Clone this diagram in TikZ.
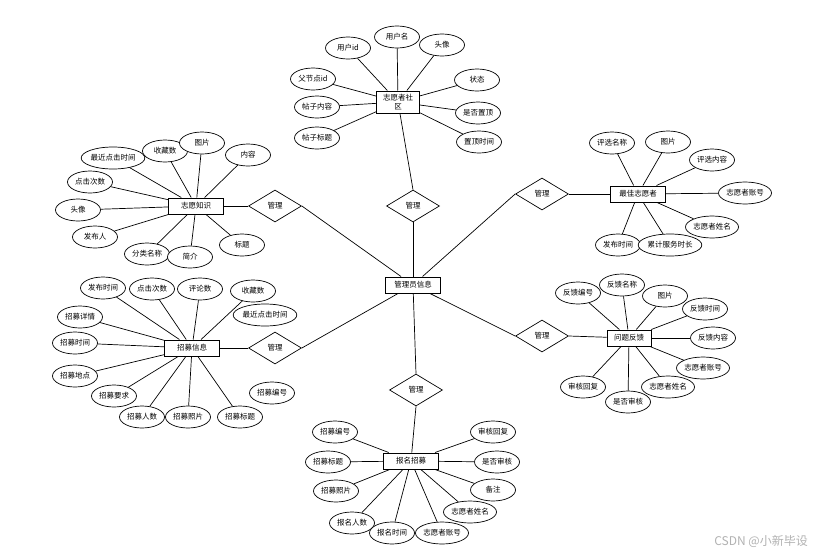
\documentclass[tikz,border=0pt]{standalone}
\usepackage{fontspec}
\setmainfont{Noto Sans CJK SC}
\usetikzlibrary{shapes.geometric}
\tikzset{
  attr/.style={ellipse, draw, fill=white, line width=0.7pt, minimum width=45pt, minimum height=22pt, inner sep=0pt, font=\fontsize{7.5}{8}\selectfont},
  ent/.style={rectangle, draw, fill=white, line width=1pt, minimum width=55pt, minimum height=16pt, inner sep=1pt, font=\fontsize{7.5}{8}\selectfont},
  rel/.style={diamond, draw, fill=white, line width=0.7pt, aspect=1.65, minimum width=53pt, minimum height=32pt, inner sep=0pt, font=\fontsize{7.5}{8}\selectfont},
  ln/.style={draw, line width=0.7pt}
}
\begin{document}
\begin{tikzpicture}[x=1pt,y=-1pt]
\useasboundingbox[fill=white] (0,0) rectangle (832,557);
% center
\node[ent] (admin) at (413,285) {管理员信息};
% diamonds
\node[rel] (r1) at (413,206) {管理};
\node[rel] (r2) at (275,206) {管理};
\node[rel] (r3) at (275,348) {管理};
\node[rel] (r4) at (542,194) {管理};
\node[rel] (r5) at (542,336) {管理};
\node[rel] (r6) at (416,390) {管理};
% entities
\node[ent, minimum width=43pt, minimum height=22pt, align=center, font=\fontsize{7.5}{8.5}\selectfont] (sq) at (398,102) {志愿者社\\区};
\node[ent] (zs) at (196,206) {志愿知识};
\node[ent] (zm) at (192,348) {招募信息};
\node[ent] (zj) at (638,194) {最佳志愿者};
\node[ent, minimum width=44pt] (wt) at (629,338) {问题反馈};
\node[ent] (bm) at (411,461) {报名招募};
% relation lines
\draw[ln] (sq) -- (r1.north);
\draw[ln] (r1.south) -- (admin);
\draw[ln] (zs) -- (r2.west);
\draw[ln] (r2.east) -- (admin);
\draw[ln] (zm) -- (r3.west);
\draw[ln] (r3.east) -- (admin);
\draw[ln] (zj) -- (r4.east);
\draw[ln] (r4.west) -- (admin);
\draw[ln] (wt) -- (r5.east);
\draw[ln] (r5.west) -- (admin);
\draw[ln] (admin) -- (r6.north);
\draw[ln] (r6.south) -- (bm);
% community attributes
\node[attr] (s1) at (348,48) {用户id};
\node[attr] (s2) at (397,37) {用户名};
\node[attr] (s3) at (442,45) {头像};
\node[attr] (s4) at (313,79) {父节点id};
\node[attr] (s5) at (477,80) {状态};
\node[attr] (s6) at (317,107) {帖子内容};
\node[attr] (s7) at (478,113) {是否置顶};
\node[attr] (s8) at (317,138) {帖子标题};
\node[attr] (s9) at (479,142) {置顶时间};
\foreach \a in {s1,s2,s3,s4,s5,s6,s7,s8,s9} \draw[ln] (\a) -- (sq);
% knowledge attributes
\node[attr] (k1) at (113,158) {最近点击时间};
\node[attr] (k2) at (165,151) {收藏数};
\node[attr] (k3) at (202,143) {图片};
\node[attr] (k4) at (248,155) {内容};
\node[attr] (k5) at (90,182) {点击次数};
\node[attr] (k6) at (78,210) {头像};
\node[attr] (k7) at (95,237) {发布人};
\node[attr] (k8) at (147,254) {分类名称};
\node[attr] (k9) at (190,257) {简介};
\node[attr] (k10) at (242,245) {标题};
\foreach \a in {k1,k2,k3,k4,k5,k6,k7,k8,k9,k10} \draw[ln] (\a) -- (zs);
% recruit attributes
\node[attr] (m1) at (103,288) {发布时间};
\node[attr] (m2) at (152,289) {点击次数};
\node[attr] (m3) at (200,289) {评论数};
\node[attr] (m4) at (253,291) {收藏数};
\node[attr] (m5) at (265,315) {最近点击时间};
\node[attr] (m6) at (80,317) {招募详情};
\node[attr] (m7) at (75,343) {招募时间};
\node[attr] (m8) at (75,376) {招募地点};
\node[attr] (m9) at (114,396) {招募要求};
\node[attr] (m10) at (142,417) {招募人数};
\node[attr] (m11) at (188,417) {招募照片};
\node[attr] (m12) at (240,417) {招募标题};
\node[attr] (m13) at (272,393) {招募编号};
\foreach \a in {m1,m2,m3,m4,m6,m7,m8,m9,m10,m11,m12} \draw[ln] (\a) -- (zm);
% best volunteer attributes
\node[attr] (j1) at (612,143) {评选名称};
\node[attr] (j2) at (668,142) {图片};
\node[attr] (j3) at (712,160) {评选内容};
\node[attr] (j4) at (745,193) {志愿者账号};
\node[attr] (j5) at (712,227) {志愿者姓名};
\node[attr] (j7) at (618,245) {发布时间};
\node[attr] (j6) at (670,245) {累计服务时长};
\foreach \a in {j1,j2,j3,j4,j5,j6,j7} \draw[ln] (\a) -- (zj);
% feedback attributes
\node[attr] (w1) at (578,293) {反馈编号};
\node[attr] (w2) at (622,285) {反馈名称};
\node[attr] (w3) at (665,296) {图片};
\node[attr] (w4) at (705,309) {反馈时间};
\node[attr] (w5) at (713,338) {反馈内容};
\node[attr] (w6) at (703,368) {志愿者账号};
\node[attr] (w7) at (668,387) {志愿者姓名};
\node[attr] (w8) at (628,402) {是否审核};
\node[attr] (w9) at (583,387) {审核回复};
\foreach \a in {w1,w2,w3,w4,w5,w6,w7,w8,w9} \draw[ln] (\a) -- (wt);
% sign-up attributes
\node[attr] (b1) at (335,432) {招募编号};
\node[attr] (b2) at (328,462) {招募标题};
\node[attr] (b3) at (336,491) {招募照片};
\node[attr] (b4) at (352,523) {报名人数};
\node[attr] (b5) at (392,533) {报名时间};
\node[attr] (b6) at (442,533) {志愿者账号};
\node[attr] (b7) at (470,512) {志愿者姓名};
\node[attr] (b8) at (493,490) {备注};
\node[attr] (b9) at (497,462) {是否审核};
\node[attr] (b10) at (493,432) {审核回复};
\foreach \a in {b1,b2,b3,b4,b5,b6,b7,b8,b9,b10} \draw[ln] (\a) -- (bm);
% watermark
\node[text=black!30, font=\fontsize{12}{13}\selectfont, anchor=east, inner sep=0pt] (wm) at (808,541) {CSDN @小新毕设};
\end{tikzpicture}
\end{document}
